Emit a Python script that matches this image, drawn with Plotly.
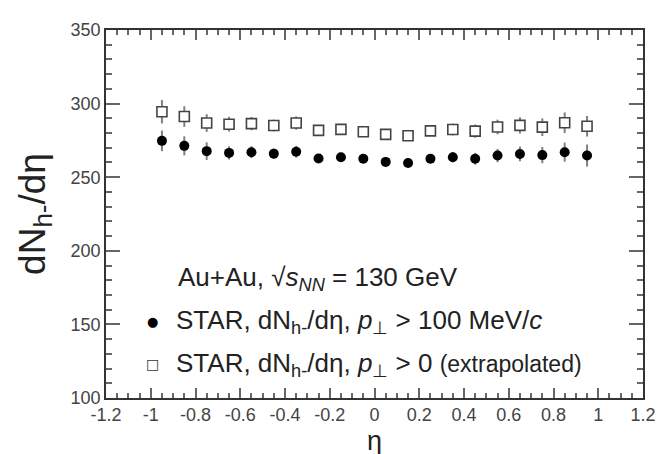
import plotly.graph_objects as go

eta = [-0.95, -0.85, -0.75, -0.65, -0.55, -0.45, -0.35, -0.25, -0.15, -0.05,
       0.05, 0.15, 0.25, 0.35, 0.45, 0.55, 0.65, 0.75, 0.85, 0.95]
dn_pt100 = [274.7, 271.3, 267.7, 266.5, 267.0, 266.0, 267.3, 262.7, 263.6, 262.5,
            260.4, 259.7, 262.5, 263.6, 262.5, 264.7, 265.8, 265.0, 267.0, 264.7]
err_pt100 = [7.0, 6.5, 6.0, 4.5, 4.0, 3.5, 4.0, 3.0, 3.0, 3.0,
             3.0, 3.0, 3.0, 3.5, 4.0, 4.5, 5.0, 5.5, 6.5, 7.5]
dn_pt0 = [294.5, 291.2, 286.8, 286.0, 286.4, 285.1, 286.8, 281.8, 282.5, 280.9,
          279.1, 278.2, 281.5, 282.4, 281.3, 284.1, 285.2, 284.0, 287.0, 284.6]
err_pt0 = [8.0, 7.0, 6.0, 5.0, 4.5, 4.0, 4.5, 3.0, 3.0, 3.0,
           3.0, 3.0, 3.0, 4.0, 4.5, 5.0, 5.5, 6.0, 7.0, 7.0]

FONT = "Liberation Sans, Arial, sans-serif"

fig = go.Figure()
fig.add_trace(go.Scatter(
    x=eta, y=dn_pt0, mode="markers",
    error_y=dict(type="data", array=err_pt0, color="#808080", thickness=2, width=0),
    marker=dict(symbol="square", size=10, color="white", line=dict(color="#444444", width=1.6)),
    showlegend=False))
fig.add_trace(go.Scatter(
    x=eta, y=dn_pt100, mode="markers",
    error_y=dict(type="data", array=err_pt100, color="#808080", thickness=2, width=0),
    marker=dict(symbol="circle", size=10, color="black"),
    showlegend=False))

axis_common = dict(
    showline=True, linecolor="#333333", linewidth=1.5, mirror="allticks",
    ticks="inside", tickcolor="#666666", tickwidth=1.5,
    showgrid=False, zeroline=False,
    tickfont=dict(family=FONT, size=18, color="#444444"),
)

fig.update_xaxes(
    range=[-1.2, 1.2], tickvals=[-1.2, -1, -0.8, -0.6, -0.4, -0.2, 0, 0.2, 0.4, 0.6, 0.8, 1, 1.2],
    ticktext=["-1.2", "-1", "-0.8", "-0.6", "-0.4", "-0.2", "0", "0.2", "0.4", "0.6", "0.8", "1", "1.2"],
    ticklen=10,
    minor=dict(dtick=0.05, tick0=0, ticks="inside", ticklen=5, tickcolor="#666666", tickwidth=1.5),
    **axis_common)
fig.update_yaxes(
    range=[100, 350], dtick=50, tick0=100, ticklen=14,
    minor=dict(dtick=10, tick0=100, ticks="inside", ticklen=6, tickcolor="#666666", tickwidth=1.5),
    title=dict(text="dN<sub>h-</sub>/dη", font=dict(family=FONT, size=37, color="#222222"), standoff=14),
    **axis_common)

# x-axis title placed as an annotation so it stays inside the page
fig.add_annotation(x=0.5, y=0, xref="paper", yref="paper", xanchor="center", yanchor="middle",
                   yshift=-43, text="η", showarrow=False,
                   font=dict(family=FONT, size=27, color="#222222"))

tf = dict(family=FONT, size=26, color="#222222")
fig.add_annotation(x=-0.885, y=181, xref="x", yref="y", xanchor="left", yanchor="middle",
                   text="Au+Au, √<i>s</i><sub><i>NN</i></sub> = 130 GeV", showarrow=False, font=tf)
fig.add_annotation(x=-0.895, y=152, xref="x", yref="y", xanchor="left", yanchor="middle",
                   text="STAR, dN<sub>h-</sub>/dη, <i>p</i><sub>⊥</sub> > 100 MeV/<i>c</i>",
                   showarrow=False, font=tf)
fig.add_annotation(x=-0.895, y=123, xref="x", yref="y", xanchor="left", yanchor="middle",
                   text="STAR, dN<sub>h-</sub>/dη, <i>p</i><sub>⊥</sub> > 0 <span style='font-size:23px'>(extrapolated)</span>",
                   showarrow=False, font=tf)
fig.add_annotation(x=-0.99, y=152, xref="x", yref="y", xanchor="center", yanchor="middle",
                   text="●", showarrow=False, font=dict(family="DejaVu Sans", size=13, color="black"))
fig.add_annotation(x=-0.99, y=123, xref="x", yref="y", xanchor="center", yanchor="middle",
                   text="□", showarrow=False, font=dict(family="DejaVu Sans", size=14, color="#333333"))

fig.update_layout(
    width=664, height=454,
    margin=dict(l=98, r=29, t=18, b=64),
    paper_bgcolor="white", plot_bgcolor="white",
)
fig.write_html("out.html")
